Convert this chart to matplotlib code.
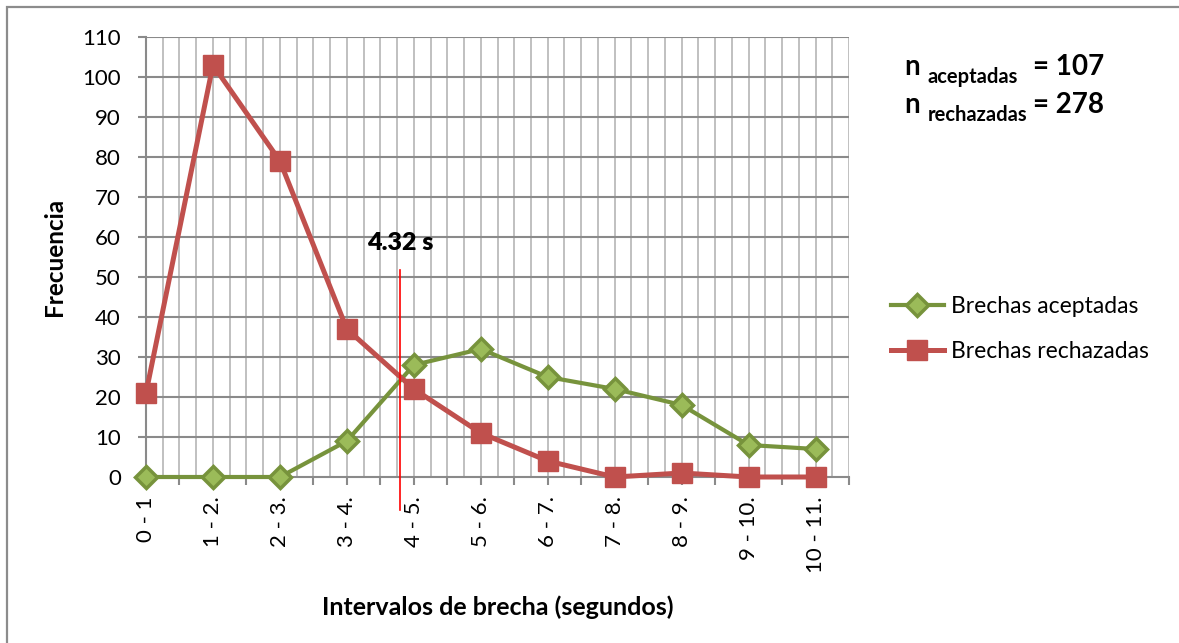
import numpy as np
import matplotlib
matplotlib.use("Agg")
from matplotlib import pyplot as plt
from matplotlib.patches import Rectangle

plt.rcParams['font.family'] = ['Lato', 'DejaVu Sans']

# gap intervals (s) and observed frequencies
intervalos = ['0 - 1', '1 - 2.', '2 - 3.', '3 - 4.', '4 - 5.', '5 - 6.',
              '6 - 7.', '7 - 8.', '8 - 9.', '9 - 10.', '10 - 11.']
aceptadas = [0, 0, 0, 9, 28, 32, 25, 22, 18, 8, 7]
rechazadas = [21, 103, 79, 37, 22, 11, 4, 0, 1, 0, 0]
n_aceptadas = 107
n_rechazadas = 278
brecha_critica = '4.32 s'
brecha_critica_x = 3.8   # position on the category axis

W, H = 1179, 643
fig = plt.figure(figsize=(W / 100, H / 100), dpi=100)

def px(x, y):
    return x / W, 1 - y / H

# chart frame (only left/top edges fall inside the image)
fig.patches.append(Rectangle(px(7, 700), 1.2, (700 - 7) / H, transform=fig.transFigure,
                             fill=False, edgecolor='#8c8c8c', linewidth=1.6))

l, b = px(146, 477)
r, t = px(849, 37)
ax = fig.add_axes([l, b, r - l, t - b])

x = np.arange(len(intervalos))
ax.set_xlim(0, 10.5)
ax.set_ylim(0, 110)

# grid: light vertical lines every quarter category, darker horizontal every 10
for gx in np.arange(0.25, 10.51, 0.25):
    ax.axvline(gx, color='#c0c0c0', linewidth=1.4, zorder=0)
for gy in range(10, 111, 10):
    ax.axhline(gy, color='#8a8a8a', linewidth=1.5, zorder=0)

for s in ['top', 'right']:
    ax.spines[s].set_visible(False)
for s in ['left', 'bottom']:
    ax.spines[s].set_color('#8a8a8a')
    ax.spines[s].set_linewidth(1.5)

ax.plot(x, aceptadas, color='#77933c', linewidth=3.0, marker='D', markersize=11,
        markerfacecolor='#9bbb59', markeredgecolor='#77933c', markeredgewidth=2.5,
        label='Brechas aceptadas', zorder=3, clip_on=False)
ax.plot(x, rechazadas, color='#c0504d', linewidth=3.6, marker='s', markersize=14,
        markerfacecolor='#c0504d', markeredgecolor='#c0504d',
        label='Brechas rechazadas', zorder=4, clip_on=False)

ax.set_xticks(x)
ax.set_xticklabels(intervalos, rotation=90, va='top', ha='center')
ax.set_xticks(np.arange(0.5, 10.6, 1.0), minor=True)
ax.tick_params(axis='x', which='both', direction='out', length=6, width=1.5,
               color='#8a8a8a', labelsize=16, pad=8)
ax.set_yticks(range(0, 111, 10))
ax.tick_params(axis='y', direction='out', length=6, width=1.5, color='#8a8a8a',
               labelsize=16, pad=12)

ax.set_ylabel('Frecuencia', fontsize=17.5, fontweight='bold', labelpad=12)
ax.set_xlabel('Intervalos de brecha (segundos)', fontsize=18, fontweight='bold', labelpad=16)

# critical gap marker
ax.plot([brecha_critica_x, brecha_critica_x], [-8.25, 51.75], color='red',
        linewidth=1.2, zorder=5, clip_on=False)
ax.text(brecha_critica_x, 58.5, brecha_critica, fontsize=18, fontweight='heavy',
        ha='center', va='center')

# sample sizes
for row, (sub, n) in enumerate([('aceptadas', n_aceptadas), ('rechazadas', n_rechazadas)]):
    base = 75 + row * 38
    fig.text(*px(904, base), 'n', fontsize=20, fontweight='bold', va='baseline')
    fig.text(*px(928, base + 8), sub, fontsize=14.5, fontweight='bold', va='baseline')
    fig.text(*px(1033, base), f'= {n}', fontsize=20, fontweight='bold', va='baseline')

fig.legend(loc='center left', bbox_to_anchor=px(891, 329), frameon=False,
           fontsize=16.5, handlelength=2.3, handletextpad=0.3, labelspacing=1.05,
           borderaxespad=0, borderpad=0)

fig.savefig('out.png', dpi=100)
